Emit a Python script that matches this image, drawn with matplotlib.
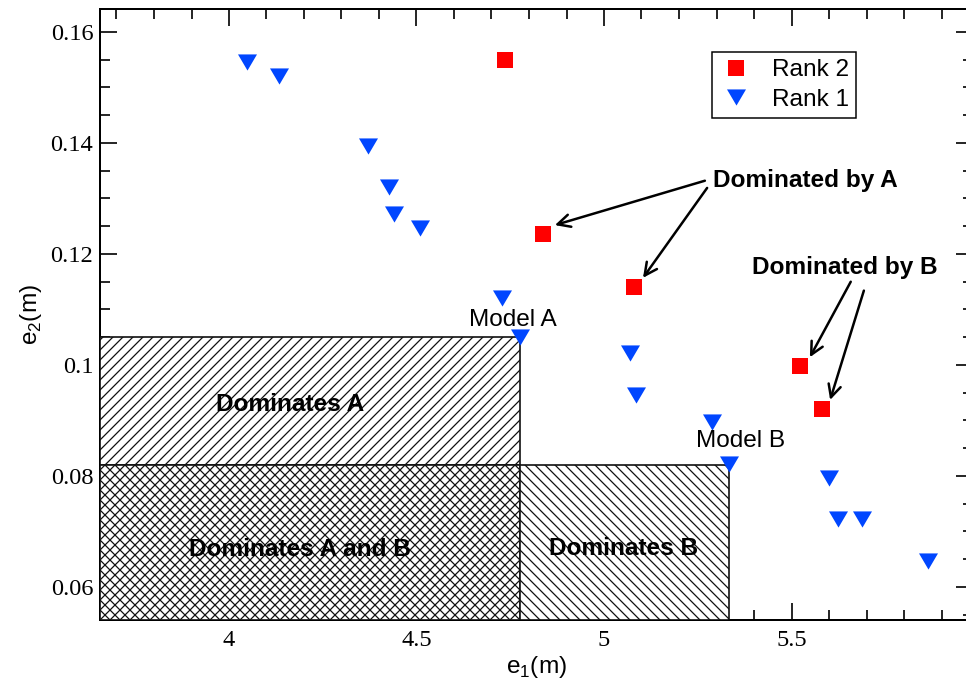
import matplotlib
matplotlib.use("Agg")
import matplotlib.pyplot as plt
import matplotlib.patches as patches
from matplotlib.ticker import MultipleLocator

# Pareto front data: e1 and e2 errors (m) of each model
rank1_e1 = [4.048, 4.133, 4.371, 4.427, 4.440, 4.509, 4.728, 4.777,
            5.069, 5.085, 5.288, 5.333, 5.600, 5.624, 5.688, 5.864]
rank1_e2 = [0.1546, 0.1521, 0.1395, 0.1321, 0.1272, 0.1247, 0.1121, 0.1050,
            0.1022, 0.0946, 0.0897, 0.0822, 0.0796, 0.0723, 0.0723, 0.0647]
rank2_e1 = [4.736, 4.837, 5.080, 5.523, 5.581]
rank2_e2 = [0.1550, 0.1236, 0.1140, 0.0998, 0.0921]

modelA = (4.777, 0.105)
modelB = (5.333, 0.082)

xlim = (3.656, 5.984)
ylim = (0.05405, 0.16414)

plt.rcParams['mathtext.fontset'] = 'custom'
plt.rcParams['mathtext.rm'] = 'Liberation Sans'
plt.rcParams['hatch.linewidth'] = 0.75

DPI = 120
fig = plt.figure(figsize=(966 / DPI, 683 / DPI), dpi=DPI)
ax = fig.add_axes([100 / 966, 1 - 620 / 683, 873 / 966, 611 / 683])
ax.set_xlim(*xlim)
ax.set_ylim(*ylim)

sans = 'Liberation Sans'
serif = 'Liberation Serif'
fs = 14.6

# dominance regions
x0, y0 = xlim[0], ylim[0]
boxA = patches.Rectangle((x0, modelB[1]), modelA[0] - x0, modelA[1] - modelB[1],
                         facecolor='white', edgecolor='#111111', lw=1.0,
                         hatch='////', zorder=3)
boxAB = patches.Rectangle((x0, y0), modelA[0] - x0, modelB[1] - y0,
                          facecolor='white', edgecolor='#111111', lw=1.0,
                          hatch='xxxx', zorder=3)
boxB = patches.Rectangle((modelA[0], y0), modelB[0] - modelA[0], modelB[1] - y0,
                         facecolor='white', edgecolor='#111111', lw=1.0,
                         hatch='\\\\\\\\', zorder=3)
for b in (boxA, boxAB, boxB):
    ax.add_patch(b)

ax.text(4.163, 0.0928, 'Dominates A', fontsize=fs, fontweight='bold',
        family=sans, ha='center', va='center', zorder=4)
ax.text(4.189, 0.0668, 'Dominates A and B', fontsize=fs, fontweight='bold',
        family=sans, ha='center', va='center', zorder=4)
ax.text(5.051, 0.0670, 'Dominates B', fontsize=fs, fontweight='bold',
        family=sans, ha='center', va='center', zorder=4)

# points
tri = [(-1, 0.85), (1, 0.85), (0, -0.85)]
ax.plot(rank2_e1, rank2_e2, ls='none', marker='s', ms=9.6, color='#ff0000',
        mec='none', label='Rank 2', zorder=5)
ax.plot(rank1_e1, rank1_e2, ls='none', marker=tri, ms=11.4, color='#0046ff',
        mec='none', label='Rank 1', zorder=5)

ax.text(4.757, 0.1081, 'Model A', fontsize=fs, family=sans,
        ha='center', va='center', zorder=6)
ax.text(5.363, 0.0863, 'Model B', fontsize=fs, family=sans,
        ha='center', va='center', zorder=6)

# annotations
ax.text(5.536, 0.1332, 'Dominated by A', fontsize=fs, fontweight='bold',
        family=sans, ha='center', va='center', zorder=6)
ax.text(5.643, 0.1175, 'Dominated by B', fontsize=fs, fontweight='bold',
        family=sans, ha='center', va='center', zorder=6)
arrows = [((5.269, 0.1332), (4.869, 0.1252)),
          ((5.275, 0.1319), (5.104, 0.1157)),
          ((5.658, 0.1150), (5.549, 0.1014)),
          ((5.693, 0.1134), (5.603, 0.0937))]
for tail, head in arrows:
    ax.annotate('', xy=head, xytext=tail,
                arrowprops=dict(arrowstyle='->, head_length=0.5, head_width=0.25',
                                lw=1.5, color='black', mutation_scale=15,
                                shrinkA=0, shrinkB=0),
                zorder=6)

# axes styling
ax.xaxis.set_major_locator(MultipleLocator(0.5))
ax.xaxis.set_minor_locator(MultipleLocator(0.1))
ax.yaxis.set_major_locator(MultipleLocator(0.02))
ax.yaxis.set_minor_locator(MultipleLocator(0.005))
ax.xaxis.set_major_formatter(plt.FuncFormatter(lambda v, p: f'{v:g}'))
ax.yaxis.set_major_formatter(plt.FuncFormatter(lambda v, p: f'{v:g}'))
ax.tick_params(which='both', direction='in', top=True, right=True, width=1.0)
ax.tick_params(which='major', length=10.2)
ax.tick_params(which='minor', length=6)
ax.tick_params(axis='x', pad=6)
ax.tick_params(axis='y', pad=4)
for lab in ax.get_xticklabels() + ax.get_yticklabels():
    lab.set_family(serif)
    lab.set_fontsize(fs)
for s in ax.spines.values():
    s.set_linewidth(1.2)

ax.set_xlabel(r'e$_\mathrm{1}$(m)', fontsize=fs, family=sans, labelpad=2)
ax.set_ylabel(r'e$_\mathrm{2}$(m)', fontsize=fs, family=sans, labelpad=4)

leg = ax.legend(loc='upper left', bbox_to_anchor=(0.701, 0.9296),
                borderaxespad=0, fancybox=False, framealpha=1,
                edgecolor='black', prop={'family': sans, 'size': fs},
                handlelength=1.4, handletextpad=0.75, labelspacing=0.3,
                borderpad=0.3)
leg.get_frame().set_linewidth(0.9)

fig.savefig('out.png', dpi=DPI)
